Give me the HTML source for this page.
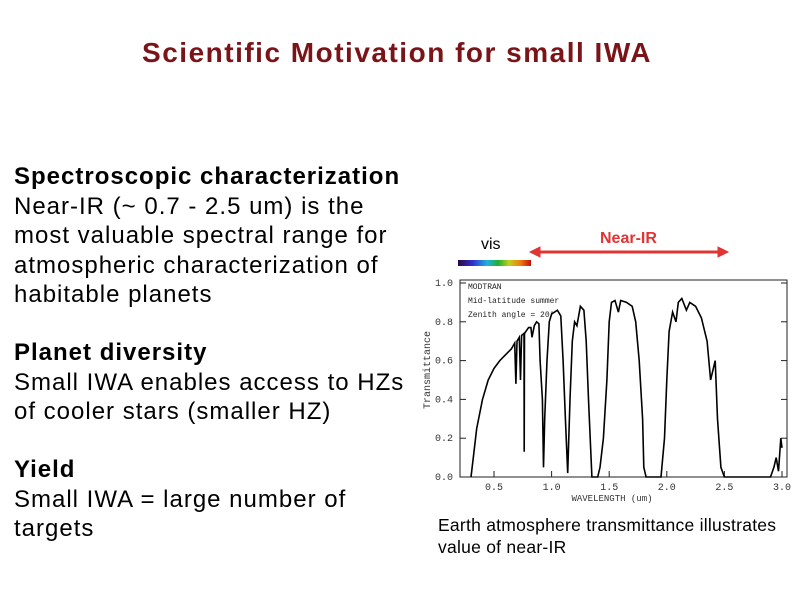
<!DOCTYPE html>
<html><head><meta charset="utf-8"><style>
body{margin:0;width:794px;height:595px;background:#fff;overflow:hidden;position:relative;font-family:"Liberation Sans",sans-serif}
.t{position:absolute;white-space:nowrap}
.body{font-size:24px;letter-spacing:1px;line-height:29.5px;color:#000}
</style></head><body>
<div class="t" style="left:0;width:794px;text-align:center;top:37px;font-size:28px;font-weight:bold;letter-spacing:1.5px;color:#7a1418">Scientific Motivation for small IWA</div>
<div class="t body" style="left:14px;top:162px"><b>Spectroscopic characterization</b><br>Near-IR (~ 0.7 - 2.5 um) is the<br>most valuable spectral range for<br>atmospheric characterization of<br>habitable planets</div>
<div class="t body" style="left:14px;top:338px"><b>Planet diversity</b><br>Small IWA enables access to HZs<br>of cooler stars (smaller HZ)</div>
<div class="t body" style="left:14px;top:455px"><b>Yield</b><br>Small IWA = large number of<br>targets</div>
<div class="t" style="left:438px;top:514px;font-size:17.5px;letter-spacing:0.25px;line-height:22px">Earth atmosphere transmittance illustrates<br>value of near-IR</div>
<svg id="chart" width="794" height="595" style="position:absolute;left:0;top:0">
<defs><linearGradient id="rb" x1="0" x2="1"><stop offset="0" stop-color="#2a0a3a"/><stop offset=".2" stop-color="#3030d0"/><stop offset=".4" stop-color="#20b0e0"/><stop offset=".55" stop-color="#20b030"/><stop offset=".7" stop-color="#c0d020"/><stop offset=".85" stop-color="#f08010"/><stop offset="1" stop-color="#c01010"/></linearGradient></defs>
<rect x="458" y="260" width="73" height="6" fill="url(#rb)"/>
<text x="481" y="249" font-size="16" font-family="Liberation Sans">vis</text>
<text x="600" y="243" font-size="16" font-weight="bold" fill="#e03535" font-family="Liberation Sans">Near-IR</text>
<g stroke="#e03535" fill="#e03535">
<line x1="535" y1="252" x2="722" y2="252" stroke-width="3"/>
<polygon points="530,252 540,247 540,257"/><polygon points="728,252 718,247 718,257"/></g>
<rect x="460" y="280" width="327" height="197" fill="none" stroke="#222" stroke-width="1"/>
<g id="ax" font-family="Liberation Mono" font-size="10" fill="#333"></g>
<text transform="translate(430,370) rotate(-90)" text-anchor="middle" font-size="10" font-family="Liberation Mono" fill="#333">Transmittance</text>
<text x="612" y="501" text-anchor="middle" font-size="9" font-family="Liberation Mono" fill="#333">WAVELENGTH (um)</text>
<g font-size="8" font-family="Liberation Mono" fill="#222">
<text x="468" y="289">MODTRAN</text><text x="468" y="303">Mid-latitude summer</text><text x="468" y="317">Zenith angle = 20°</text></g>
<path id="curve" fill="none" stroke="#000" stroke-width="1.6"/>
</svg>
<script>
const wavelengths=[0.30,0.32,0.35,0.4,0.45,0.5,0.55,0.6,0.65,0.68,0.69,0.70,0.72,0.73,0.74,0.76,0.762,0.765,0.8,0.82,0.83,0.85,0.87,0.89,0.9,0.92,0.93,0.94,0.96,0.98,1.0,1.05,1.08,1.1,1.12,1.14,1.16,1.18,1.2,1.22,1.25,1.28,1.3,1.32,1.35,1.4,1.42,1.45,1.48,1.5,1.52,1.55,1.58,1.6,1.65,1.7,1.73,1.76,1.79,1.8,1.82,1.95,1.98,2.0,2.02,2.05,2.08,2.1,2.13,2.17,2.2,2.25,2.3,2.35,2.38,2.42,2.44,2.47,2.5,2.9,2.93,2.95,2.97,2.99,3.0];
const transmittance=[0,0.1,0.25,0.4,0.5,0.56,0.6,0.63,0.66,0.69,0.48,0.7,0.72,0.5,0.73,0.74,0.13,0.74,0.77,0.77,0.72,0.78,0.8,0.79,0.6,0.4,0.05,0.3,0.6,0.8,0.84,0.86,0.83,0.6,0.3,0.02,0.4,0.7,0.8,0.78,0.88,0.86,0.7,0.4,0,0,0.05,0.2,0.5,0.8,0.9,0.91,0.85,0.91,0.9,0.88,0.8,0.6,0.3,0.05,0,0,0.2,0.5,0.75,0.85,0.8,0.9,0.92,0.86,0.9,0.88,0.82,0.7,0.5,0.6,0.3,0.05,0,0,0.05,0.1,0.03,0.2,0.15];
const xTicks=[0.5,1.0,1.5,2.0,2.5,3.0];
const yTicks=[0.0,0.2,0.4,0.6,0.8,1.0];
const X=v=>494+(v-0.5)*115.2, Y=v=>477-v*194;
const ns="http://www.w3.org/2000/svg", ax=document.getElementById('ax');
function mk(tag,attrs){const e=document.createElementNS(ns,tag);for(const k in attrs)e.setAttribute(k,attrs[k]);ax.appendChild(e);return e;}
xTicks.forEach(v=>{
 const l=mk('line',{x1:X(v),x2:X(v),y1:477,y2:471,stroke:'#222'});
 
 
 const t=mk('text',{x:X(v),y:490,'text-anchor':'middle'});t.textContent=v.toFixed(1);
 
 
});
yTicks.forEach(v=>{
 const l=mk('line',{x1:460,x2:466,y1:Y(v),y2:Y(v),stroke:'#222'});
 
 
 const l2=mk('line',{x1:787,x2:781,y1:Y(v),y2:Y(v),stroke:'#222'});
 
 
 const t=mk('text',{x:453,y:Y(v)+3,'text-anchor':'end'});t.textContent=v.toFixed(1);
 
 
});
document.getElementById('curve').setAttribute('d',wavelengths.map((w,i)=>(i?'L':'M')+X(w).toFixed(1)+','+Y(transmittance[i]).toFixed(1)).join(''));
</script>
</body></html>
